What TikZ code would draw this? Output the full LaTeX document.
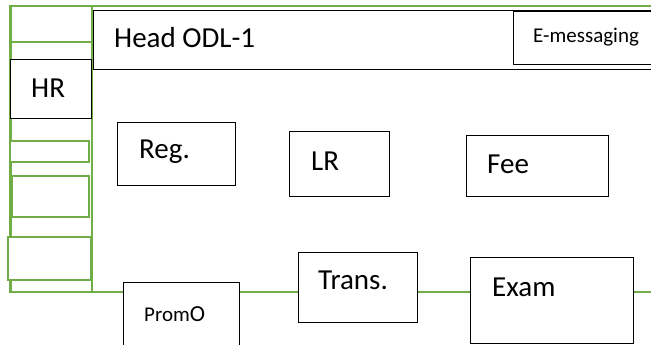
\documentclass[tikz,border=0pt]{standalone}
\usepackage{fontspec}
\setmainfont{Carlito}
\definecolor{officegreen}{HTML}{70AD47}
\tikzset{
  gline/.style={draw=officegreen, line width=2.3pt},
  gbox/.style={draw=officegreen, line width=2.3pt, fill=white, rectangle, inner sep=0pt, anchor=north west},
  bbox/.style={draw=black, line width=1pt, fill=white, rectangle, inner sep=0pt, anchor=north west},
  big/.style={font=\fontsize{29}{31}\selectfont, inner sep=0pt, anchor=base west},
  small/.style={font=\fontsize{21}{23}\selectfont, inner sep=0pt, anchor=base west}
}
\begin{document}
\begin{tikzpicture}[x=1pt,y=-1pt]
\useasboundingbox (0,0) rectangle (651,345);
\clip (0,0) rectangle (651,345);
% green frame
\coordinate (tl) at (10.5,6);
\coordinate (tr) at (660,6);
\coordinate (bl) at (10.5,292);
\coordinate (br) at (660,292);
\coordinate (vt) at (91.7,6);
\coordinate (vb) at (91.7,292);
\coordinate (h1l) at (10.5,42);
\coordinate (h1r) at (91.7,42);
\draw[gline] (tr) -- (tl) -- (bl) -- (br);
\draw[gline] (vt) -- (vb);
\draw[gline] (h1l) -- (h1r);
% green side boxes
\node[gbox, minimum width=79.5pt, minimum height=21pt] (g1) at (8.5,140) {};
\node[gbox, minimum width=77pt, minimum height=41pt] (g2) at (11,175) {};
\node[gbox, minimum width=83pt, minimum height=43pt] (g3) at (7,236) {};
% black boxes
\node[bbox, minimum width=81.5pt, minimum height=59pt] (hr) at (9.5,59) {};
\node[bbox, minimum width=570pt, minimum height=59pt] (head) at (93,10) {};
\node[bbox, minimum width=150pt, minimum height=53pt] (emsg) at (513,11) {};
\node[bbox, minimum width=118pt, minimum height=63pt] (reg) at (117,122) {};
\node[bbox, minimum width=100pt, minimum height=65pt] (lr) at (289,131) {};
\node[bbox, minimum width=142pt, minimum height=61pt] (fee) at (466,135) {};
\node[bbox, minimum width=116pt, minimum height=80pt] (promo) at (123,282) {};
\node[bbox, minimum width=119pt, minimum height=70pt] (trans) at (298,252) {};
\node[bbox, minimum width=163pt, minimum height=86pt] (exam) at (470,257) {};
% texts
\node[big] (headt) at (114,48) {Head ODL-1};
\node[small] (emsgt) at (533,43) {E-messaging};
\node[big] (hrt) at (31,97) {HR};
\node[big] (regt) at (139,158) {Reg.};
\node[big] (lrt) at (311,170) {LR};
\node[big] (feet) at (487,173) {Fee};
\node[big] (transt) at (318,289) {Trans.};
\node[big] (examt) at (492,296) {Exam};
\node[small] (promot) at (144,321) {Prom\fontsize{23}{25}\selectfont O};
\end{tikzpicture}
\end{document}
